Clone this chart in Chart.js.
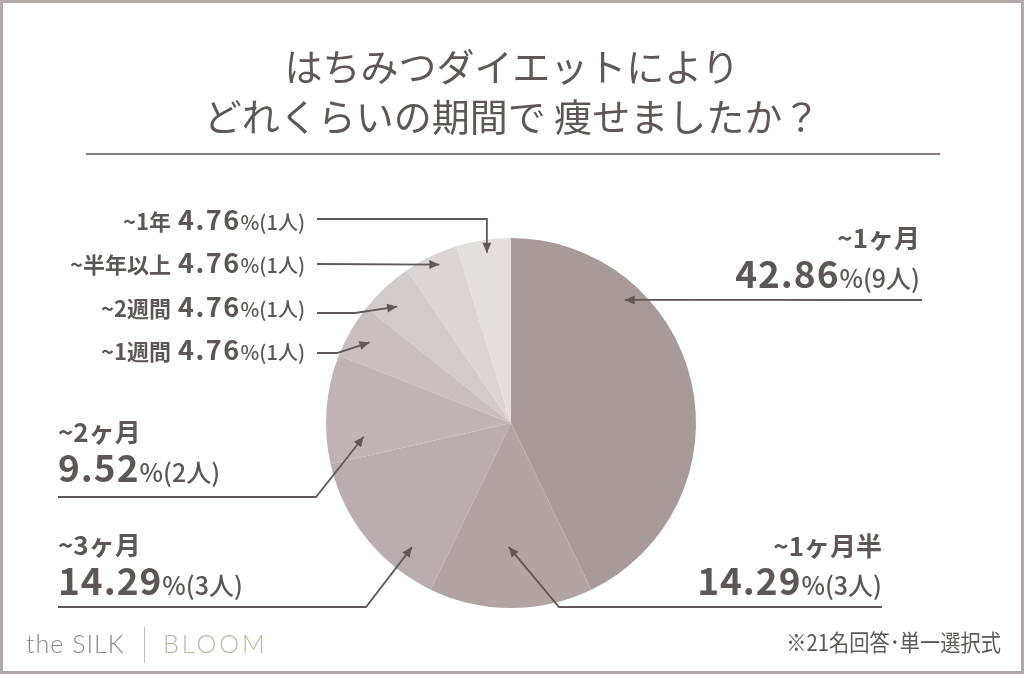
<!DOCTYPE html>
<html lang="ja">
<head>
<meta charset="utf-8">
<script src="https://cdn.jsdelivr.net/npm/chart.js@4/dist/chart.umd.min.js"></script>
<style>
  html, body { margin: 0; padding: 0; background: #fff; }
  #wrap { position: relative; width: 1024px; height: 674px; overflow: hidden; background: #fff; }
  #chart { position: absolute; left: 0; top: 0; }
  .frame { position: absolute; left: 0; top: 0; width: 1024px; height: 674px; box-sizing: border-box;
           border: 3px solid #b3a8a8; pointer-events: none; }
  .title { position: absolute; left: 0; top: 40px; width: 1024px; text-align: center;
           font-family: "Noto Sans CJK JP", sans-serif; font-size: 38px; line-height: 50px;
           color: #5e5756; font-weight: 400; }
  .rule { position: absolute; left: 86px; top: 153px; width: 854px; height: 2px; background: #857b7b; }
  .brand { position: absolute; top: 628px; height: 30px; line-height: 30px;
           font-family: Lato, "Open Sans", sans-serif; font-weight: 300; font-size: 25px; }
  .sep { position: absolute; left: 144px; top: 627px; width: 1px; height: 36px; background: #c4bcbc; }
  .note { position: absolute; right: 23px; top: 627px; line-height: 28px; white-space: nowrap;
          font-family: "Noto Sans CJK JP", sans-serif; font-size: 23px; color: #5f5857;
          transform: scaleX(0.88); transform-origin: right center; }
</style>
</head>
<body>
<div id="wrap">
  <canvas id="chart" width="1024" height="674"></canvas>
  <div class="title">はちみつダイエットにより<br>どれくらいの期間で 痩せましたか？</div>
  <div class="rule"></div>
  <div class="brand" style="left:26px; color:#8c8686; letter-spacing:1px;">the SILK</div>
  <div class="sep"></div>
  <div class="brand" style="left:163px; color:#c3b39e; letter-spacing:3px;">BLOOM</div>
  <div class="note">※21名回答･単一選択式</div>
  <div class="frame"></div>
</div>
<script>
"use strict";

// data
var categories = ['~1ヶ月', '~1ヶ月半', '~3ヶ月', '~2ヶ月', '~1週間', '~2週間', '~半年以上', '~1年'];
var counts = [9, 3, 3, 2, 1, 1, 1, 1];
var percents = ['42.86', '14.29', '14.29', '9.52', '4.76', '4.76', '4.76', '4.76'];
var sliceColors = ['#a99a9a', '#b3a4a4', '#baadad', '#c0b4b4', '#c9bfbf', '#d3caca', '#dbd5d5', '#e3dfdf'];

var textColor = '#5d5655';
var lineColor = '#5f5857';
var jp = '"Noto Sans CJK JP", sans-serif';

// where each callout sits: t = position inside the slice, f = fraction of radius
var callouts = [
  { t: 0.277, f: 0.906, path: [[922, 300]], big: true, align: 'right', x: 920, y1: 248, y2: 288 },
  { t: 0.52, f: 0.67, path: [[559, 607], [882, 607]], big: true, align: 'right', x: 882, y1: 556, y2: 595 },
  { t: 0.25, f: 0.858, path: [[366, 607], [58, 607]], big: true, align: 'left', x: 58, y1: 555, y2: 595 },
  { t: 0.22, f: 0.80, path: [[316, 497], [58, 497]], big: true, align: 'left', x: 58, y1: 442, y2: 482 },
  { t: 0.48, f: 0.88, path: [[337, 353], [317, 353]], big: false, x: 305, y1: 360 },
  { t: 0.41, f: 0.88, path: [[355, 313], [317, 313]], big: false, x: 305, y1: 317 },
  { t: 0.58, f: 0.94, path: [[317, 264]], big: false, x: 305, y1: 273 },
  { t: 0.53, f: 0.93, path: [[null, 219], [317, 219]], big: false, x: 305, y1: 230 }
];

function drawParts(ctx, parts, x, y, align) {
  var total = 0;
  parts.forEach(function(p) {
    ctx.font = p.font;
    ctx.letterSpacing = (p.ls || 0) + 'px';
    p.w = ctx.measureText(p.text).width + (p.gap || 0);
    total += p.w;
  });
  var cx = align === 'right' ? x - total : x;
  parts.forEach(function(p) {
    ctx.font = p.font;
    ctx.letterSpacing = (p.ls || 0) + 'px';
    ctx.fillText(p.text, cx, y);
    cx += p.w;
  });
  ctx.letterSpacing = '0px';
}

var calloutPlugin = {
  id: 'callouts',
  afterDraw: function(chart) {
    var ctx = chart.ctx;
    var meta = chart.getDatasetMeta(0);
    ctx.save();
    ctx.strokeStyle = lineColor;
    ctx.fillStyle = lineColor;
    ctx.lineWidth = 1.8;
    callouts.forEach(function(c, i) {
      var arc = meta.data[i];
      var p = arc.getProps(['x', 'y', 'startAngle', 'endAngle', 'outerRadius'], true);
      var a = p.startAngle + c.t * (p.endAngle - p.startAngle);
      var tx = p.x + Math.cos(a) * p.outerRadius * c.f;
      var ty = p.y + Math.sin(a) * p.outerRadius * c.f;
      var pts = c.path.map(function(q) { return [q[0] === null ? tx : q[0], q[1]]; });

      ctx.beginPath();
      ctx.moveTo(tx, ty);
      pts.forEach(function(q) { ctx.lineTo(q[0], q[1]); });
      ctx.stroke();

      // arrow head
      var dx = tx - pts[0][0], dy = ty - pts[0][1];
      var len = Math.sqrt(dx * dx + dy * dy) || 1;
      var ux = dx / len, uy = dy / len;
      var hl = 10, hw = 4.5;
      ctx.beginPath();
      ctx.moveTo(tx, ty);
      ctx.lineTo(tx - ux * hl - uy * hw, ty - uy * hl + ux * hw);
      ctx.lineTo(tx - ux * hl + uy * hw, ty - uy * hl - ux * hw);
      ctx.closePath();
      ctx.fill();
    });

    ctx.fillStyle = textColor;
    ctx.textBaseline = 'alphabetic';
    ctx.textAlign = 'left';
    callouts.forEach(function(c, i) {
      var tail = '(' + counts[i] + '人)';
      if (c.big) {
        drawParts(ctx, [{ text: categories[i], font: 'bold 26px ' + jp }], c.x, c.y1, c.align);
        drawParts(ctx, [
          { text: percents[i], font: 'bold 37px ' + jp, ls: 1 },
          { text: '%', font: '500 25px ' + jp },
          { text: tail, font: '500 25px ' + jp }
        ], c.x, c.y2, c.align);
      } else {
        drawParts(ctx, [
          { text: categories[i], font: 'bold 22px ' + jp, gap: 7 },
          { text: percents[i], font: 'bold 27px ' + jp, ls: 1.5 },
          { text: '%', font: '500 20px ' + jp },
          { text: tail, font: '500 20px ' + jp }
        ], c.x, c.y1, 'right');
      }
    });
    ctx.restore();
  }
};

new Chart(document.getElementById('chart'), {
  type: 'pie',
  data: {
    labels: categories,
    datasets: [{
      data: counts,
      backgroundColor: sliceColors,
      borderWidth: 0,
      hoverOffset: 0
    }]
  },
  options: {
    responsive: false,
    animation: false,
    layout: { padding: { top: 238, bottom: 66, left: 326, right: 328 } },
    plugins: {
      legend: { display: false },
      tooltip: { enabled: false }
    }
  },
  plugins: [calloutPlugin]
});
</script>
</body>
</html>
